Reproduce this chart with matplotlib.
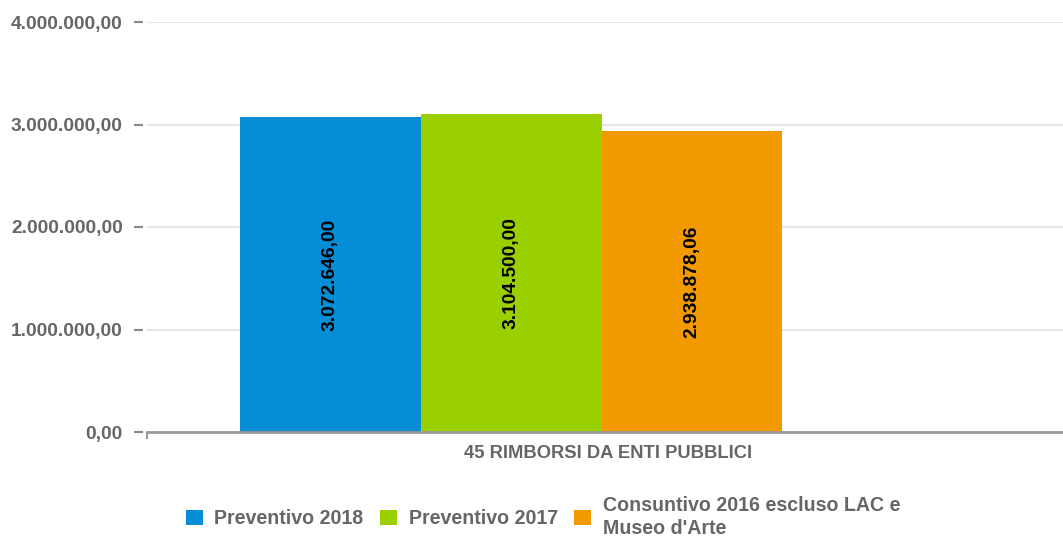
import numpy as np
from matplotlib import pyplot as plt
from matplotlib.patches import Patch

# data
category = "45 RIMBORSI DA ENTI PUBBLICI"
series = ["Preventivo 2018", "Preventivo 2017", "Consuntivo 2016 escluso LAC e\nMuseo d'Arte"]
values = [3072646.00, 3104500.00, 2938878.06]
colors = ["#058DD5", "#9ACF00", "#F39A00"]
yticks = [0, 1000000, 2000000, 3000000, 4000000]


def it_fmt(v):
    s = f"{v:,.2f}"
    return s.replace(",", "X").replace(".", ",").replace("X", ".")


BOLD = ["Liberation Sans", "DejaVu Sans"]

fig = plt.figure(figsize=(10.63, 5.36), dpi=100)
# plot area in pixels: x 147..1069, y 22..432
ax = fig.add_axes([147 / 1063, 1 - 432 / 536, 922 / 1063, 410 / 536])

w = 0.196
offsets = [-0.301, -0.105, 0.091]
for i, (name, v, c) in enumerate(zip(series, values, colors)):
    x = 0 + offsets[i]
    ax.bar(x, v, width=w, color=c, edgecolor="none", zorder=3)
    ax.text(x, v / 2, it_fmt(v), rotation=90, ha="center", va="center",
            fontsize=13.8, fontweight="bold", color="black", family=BOLD, zorder=4)

ax.set_xlim(-0.5, 0.5)
ax.set_ylim(0, 4000000)
ax.grid(axis="y", color="#e6e6e6", linewidth=1.5, zorder=0)

for s in ["top", "right", "left"]:
    ax.spines[s].set_visible(False)
ax.spines["left"].set_position(("outward", 3))
ax.spines["bottom"].set_color("#999999")
ax.spines["bottom"].set_linewidth(2)
ax.spines["bottom"].set_zorder(5)
ax.tick_params(axis="y", length=6.5, width=1.5, color="#888888", pad=8)

ax.set_yticks(yticks)
ax.set_yticklabels([it_fmt(t) for t in yticks])
for t in ax.get_yticklabels():
    t.set_fontsize(13.8)
    t.set_fontweight("bold")
    t.set_color("#666666")
    t.set_family(BOLD)

ax.set_xticks([0])
ax.set_xticklabels([category])
for t in ax.get_xticklabels():
    t.set_fontsize(13.2)
    t.set_fontweight("bold")
    t.set_color("#666666")
    t.set_family(BOLD)
ax.set_xticks([-0.5], minor=True)
ax.tick_params(axis="x", which="major", length=0, pad=9)
ax.tick_params(axis="x", which="minor", length=5, width=1.5, color="#999999")

handles = [Patch(facecolor=c, edgecolor="none") for c in colors]
leg = fig.legend(handles, series, loc="center", bbox_to_anchor=(0.511, 0.036), ncol=3,
                 frameon=False, handlelength=0.85, handleheight=0.85, handletextpad=0.6,
                 columnspacing=0.85, labelspacing=0.2,
                 prop={"family": BOLD, "weight": "bold", "size": 14.1})
for t in leg.get_texts():
    t.set_color("#666666")
    t.set_fontweight("bold")
    t.set_linespacing(1.25)

fig.savefig("out.png", dpi=100)
